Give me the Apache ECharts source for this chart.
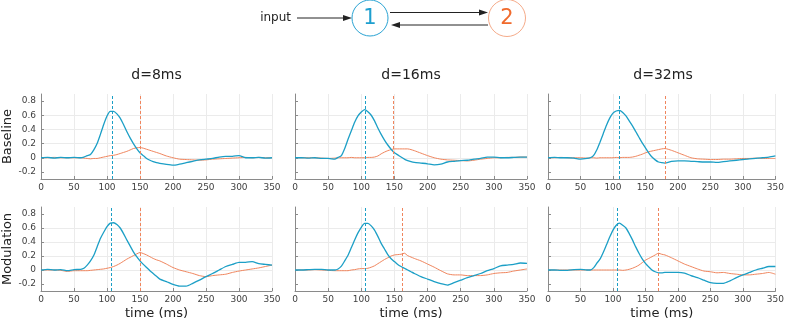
<!DOCTYPE html>
<html>
<head>
<meta charset="utf-8">
<script src="https://cdn.jsdelivr.net/npm/echarts@6/dist/echarts.min.js"></script>
<style>
  html, body { margin: 0; padding: 0; background: #fff; }
  #chart { width: 787px; height: 322px; }
</style>
</head>
<body>
<div id="chart"></div>
<script>
  // shared time axis (ms)
  var time = [0,10,20,30,40,50,60,65,70,75,80,85,90,95,100,105,110,115,120,125,130,135,140,145,150,155,160,165,170,175,180,190,200,210,220,230,240,250,260,270,280,290,300,310,320,330,340,350];

  // Baseline, d=8 / 16 / 32 ms  (b = node 1, o = node 2)
  var b1 = [0,0.005,-0.005,0.005,0,0.005,0, 0.01,0.03,0.045,0.11,0.2,0.33,0.47,0.59,0.655,0.655,0.62,0.56,0.47,0.37,0.28,0.2,0.13,0.07,0.03,-0.01,-0.035,-0.055,-0.07,-0.08, -0.095,-0.105,-0.09,-0.07,-0.05,-0.03,-0.02,-0.01,0.01,0.02,0.02,0.03,0,0,0.005,-0.005,0];
  var o1 = [0,0,0.005,0,0,0,0, -0.005,-0.01,-0.015,-0.01,-0.01,0,0.01,0.02,0.03,0.035,0.045,0.06,0.075,0.09,0.11,0.13,0.14,0.145,0.135,0.12,0.105,0.09,0.075,0.06, 0.025,0,-0.02,-0.025,-0.03,-0.035,-0.03,-0.02,-0.015,-0.01,-0.005,0,0.005,0,0.005,0,0];
  var b2 = [0,0,-0.005,0,-0.01,-0.01,-0.02, 0.005,0.03,0.13,0.26,0.38,0.5,0.59,0.645,0.68,0.65,0.6,0.52,0.42,0.33,0.25,0.18,0.12,0.07,0.04,0.01,-0.02,-0.04,-0.055,-0.065, -0.075,-0.085,-0.1,-0.09,-0.06,-0.05,-0.04,-0.035,-0.02,-0.01,0.01,0.01,0,0,0.005,0.01,0.01];
  var o2 = [0,0,0,0,-0.005,-0.01,-0.005, 0,0,0,0,0.005,0,0,0,0,0.005,0.005,0.01,0.025,0.055,0.08,0.1,0.115,0.125,0.125,0.125,0.125,0.125,0.115,0.1, 0.065,0.03,0,-0.02,-0.03,-0.035,-0.04,-0.045,-0.035,-0.02,-0.01,0,0,0.005,0.005,0.01,0.01];
  var b3 = [0,0.005,0,0,-0.005,-0.02,-0.01, 0,0.03,0.11,0.22,0.34,0.46,0.56,0.63,0.66,0.67,0.64,0.59,0.52,0.45,0.37,0.29,0.21,0.14,0.07,0.01,-0.03,-0.06,-0.07,-0.075, -0.05,-0.045,-0.045,-0.05,-0.055,-0.06,-0.06,-0.065,-0.055,-0.045,-0.035,-0.025,-0.015,-0.01,0,0.01,0.025];
  var o3 = [0,0,0.005,0,0,0,-0.005, 0,0,-0.005,0,0,0,0,0,0.005,0,0.005,0.005,0.005,0.01,0.02,0.035,0.05,0.07,0.085,0.095,0.105,0.115,0.125,0.13, 0.105,0.07,0.035,0,-0.015,-0.02,-0.025,-0.025,-0.02,-0.02,-0.015,-0.01,-0.01,-0.005,-0.01,-0.01,-0.01];

  // Modulation, d=8 / 16 / 32 ms
  var b4 = [0,0.01,0,0.005,-0.01,0.005,0.01, 0.025,0.07,0.13,0.21,0.33,0.45,0.54,0.62,0.67,0.675,0.65,0.6,0.52,0.43,0.345,0.26,0.19,0.13,0.08,0.035,-0.01,-0.05,-0.09,-0.13, -0.165,-0.205,-0.23,-0.23,-0.19,-0.145,-0.095,-0.05,0,0.05,0.08,0.11,0.11,0.12,0.09,0.08,0.07];
  var o4 = [0,0,0,-0.005,-0.02,-0.01,-0.01, -0.01,-0.01,-0.005,0,0.005,0.01,0.015,0.025,0.035,0.05,0.07,0.095,0.125,0.155,0.18,0.205,0.23,0.25,0.235,0.215,0.19,0.165,0.145,0.13, 0.085,0.035,0,-0.025,-0.05,-0.08,-0.095,-0.08,-0.07,-0.06,-0.035,-0.015,0,0.015,0.03,0.05,0.07];
  var b5 = [0,0,0.005,0.01,0.01,0,0, 0.015,0.055,0.13,0.21,0.32,0.43,0.53,0.61,0.665,0.665,0.63,0.57,0.48,0.38,0.3,0.22,0.16,0.12,0.08,0.05,0.025,0,-0.025,-0.05, -0.095,-0.13,-0.165,-0.195,-0.215,-0.18,-0.145,-0.11,-0.08,-0.05,-0.01,0.02,0.06,0.07,0.08,0.1,0.095];
  var o5 = [0,0,0,0.005,0,-0.005,-0.01, -0.01,-0.01,-0.01,-0.01,0,0.005,0.015,0.02,0.02,0.025,0.04,0.06,0.09,0.12,0.15,0.175,0.2,0.215,0.22,0.225,0.24,0.205,0.185,0.165, 0.13,0.085,0.04,-0.01,-0.055,-0.07,-0.07,-0.08,-0.08,-0.08,-0.07,-0.05,-0.04,-0.035,-0.015,0,0.015];
  var b6 = [0,0,-0.005,-0.005,0.005,0.01,0, 0,0.03,0.095,0.155,0.25,0.36,0.47,0.57,0.64,0.67,0.64,0.6,0.52,0.43,0.33,0.24,0.16,0.095,0.045,0,-0.025,-0.04,-0.04,-0.035, -0.035,-0.035,-0.045,-0.08,-0.11,-0.145,-0.18,-0.19,-0.19,-0.155,-0.11,-0.07,-0.035,0,0.025,0.05,0.05];
  var o6 = [0,0,0,0,0,0,0, 0,0,0,0,0,0,0,0,0,0,-0.005,0,0.01,0.025,0.045,0.07,0.105,0.14,0.165,0.19,0.215,0.24,0.225,0.215, 0.175,0.13,0.085,0.05,0.015,-0.015,-0.025,-0.04,-0.035,-0.05,-0.06,-0.07,-0.07,-0.06,-0.05,-0.035,-0.06];

  // peak times marked with dashed lines
  var bluePeak = [108, 106, 109, 107, 106, 106];
  var orangePeak = [150, 148, 181, 150, 162, 170];

  var colTitles = ['d=8ms', 'd=16ms', 'd=32ms'];
  var rowNames = ['Baseline', 'Modulation'];
  var yTicks = [-0.2, 0, 0.2, 0.4, 0.6, 0.8];

  var blueData = [b1, b2, b3, b4, b5, b6];
  var orangeData = [o1, o2, o3, o4, o5, o6];

  var blue = '#1c9fc6';
  var orange = '#f0855d';
  var axisColor = '#8a8a8a';
  var font = 'DejaVu Sans';

  // panel layout
  var gridLeft = [41, 295, 548];
  var gridWidth = [231, 232, 230];
  var gridTop = [94, 207];
  var gridHeight = [85, 84];

  function pairs(ys) {
    return time.map(function (t, i) { return [t, ys[i]]; });
  }

  var grids = [], xAxes = [], yAxes = [], series = [];
  for (var r = 0; r < 2; r++) {
    for (var c = 0; c < 3; c++) {
      var k = r * 3 + c;
      grids.push({ left: gridLeft[c], top: gridTop[r], width: gridWidth[c], height: gridHeight[r] });
      xAxes.push({
        gridIndex: k, type: 'value', min: 0, max: 350, interval: 50,
        axisLine: { onZero: false, lineStyle: { color: axisColor } },
        axisTick: { inside: true, length: 3, lineStyle: { color: axisColor } },
        axisLabel: { color: '#404040', fontSize: 9, fontFamily: font, margin: 4 },
        splitLine: { show: true, lineStyle: { color: '#ebebeb' } },
        name: r === 1 ? 'time (ms)' : '',
        nameLocation: 'middle', nameGap: 16,
        nameTextStyle: { color: '#222', fontSize: 13, fontFamily: font }
      });
      yAxes.push({
        gridIndex: k, type: 'value', min: -0.3, max: 0.9, splitNumber: 6,
        axisLine: { show: true, onZero: false, lineStyle: { color: axisColor } },
        axisTick: { show: true, inside: true, length: 3, customValues: yTicks, lineStyle: { color: axisColor } },
        axisLabel: {
          show: c === 0, customValues: yTicks, color: '#404040', fontSize: 9, fontFamily: font, margin: 5,
          formatter: function (v) { return v === 0 ? '0' : v.toFixed(1); }
        },
        splitLine: { show: true, showMinLine: false, showMaxLine: false, lineStyle: { color: '#ebebeb' } },
        name: c === 0 ? rowNames[r] : '',
        nameLocation: 'middle', nameGap: 24, nameRotate: 90,
        nameTextStyle: { color: '#222', fontSize: 13, fontFamily: font }
      });
      series.push({
        type: 'line', xAxisIndex: k, yAxisIndex: k, data: pairs(orangeData[k]),
        showSymbol: false, smooth: 0.2, lineStyle: { color: orange, width: 1 }, z: 2,
        markLine: {
          silent: true, symbol: 'none', label: { show: false },
          lineStyle: { color: orange, type: [3, 2], width: 1 },
          data: [{ xAxis: orangePeak[k] }]
        }
      });
      series.push({
        type: 'line', xAxisIndex: k, yAxisIndex: k, data: pairs(blueData[k]),
        showSymbol: false, smooth: 0.2, lineStyle: { color: blue, width: 1.3 }, z: 3,
        markLine: {
          silent: true, symbol: 'none', label: { show: false },
          lineStyle: { color: blue, type: [3, 2], width: 1 },
          data: [{ xAxis: bluePeak[k] }]
        }
      });
    }
  }

  // column titles and the little network sketch on top
  var graphics = [];
  for (var j = 0; j < 3; j++) {
    graphics.push({
      type: 'text', x: gridLeft[j] + gridWidth[j] / 2, y: 75,
      style: { text: colTitles[j], fill: '#222', font: '14px "DejaVu Sans"', align: 'center', verticalAlign: 'middle' }
    });
  }
  graphics.push(
    { type: 'text', x: 291, y: 18, style: { text: 'input', fill: '#222', font: '12px "DejaVu Sans"', align: 'right', verticalAlign: 'middle' } },
    { type: 'line', shape: { x1: 297, y1: 18, x2: 345, y2: 18 }, style: { stroke: '#222', lineWidth: 1 } },
    { type: 'polygon', shape: { points: [[352, 18], [343, 15], [343, 21]] }, style: { fill: '#222' } },
    { type: 'circle', shape: { cx: 370, cy: 18, r: 18 }, style: { fill: 'none', stroke: '#2aa3d3', lineWidth: 1 } },
    { type: 'text', x: 370, y: 19, style: { text: '1', fill: '#1e9fcf', font: '21px "DejaVu Sans"', align: 'center', verticalAlign: 'middle' } },
    { type: 'circle', shape: { cx: 507, cy: 18, r: 18.5 }, style: { fill: 'none', stroke: '#f5ab8a', lineWidth: 1 } },
    { type: 'text', x: 507, y: 19, style: { text: '2', fill: '#f06a2c', font: '21px "DejaVu Sans"', align: 'center', verticalAlign: 'middle' } },
    { type: 'line', shape: { x1: 390, y1: 12.5, x2: 480, y2: 12.5 }, style: { stroke: '#222', lineWidth: 1 } },
    { type: 'polygon', shape: { points: [[488, 12.5], [479, 9.5], [479, 15.5]] }, style: { fill: '#222' } },
    { type: 'line', shape: { x1: 399, y1: 25, x2: 488, y2: 25 }, style: { stroke: '#222', lineWidth: 1 } },
    { type: 'polygon', shape: { points: [[391, 25], [400, 22], [400, 28]] }, style: { fill: '#222' } }
  );

  var myChart = echarts.init(document.getElementById('chart'), null, { renderer: 'canvas' });
  var option = {
    backgroundColor: '#fff',
    animation: false,
    grid: grids,
    xAxis: xAxes,
    yAxis: yAxes,
    series: series,
    graphic: graphics
  };
  option && myChart.setOption(option);
</script>
</body>
</html>
